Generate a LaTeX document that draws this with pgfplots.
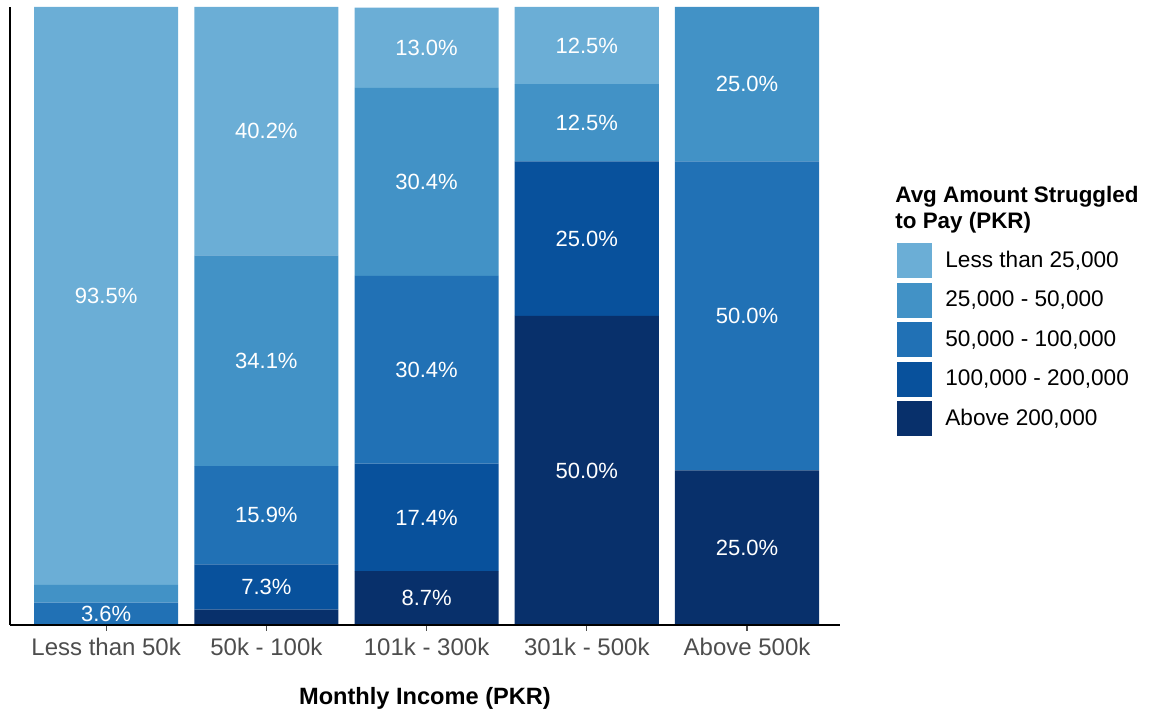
\documentclass[border=0pt]{standalone}
\usepackage{fontspec}
\setmainfont{Liberation Sans}
\usepackage{pgfplots}
\pgfplotsset{compat=1.18}
\definecolor{bluA}{HTML}{6BAED6}
\definecolor{bluB}{HTML}{4292C6}
\definecolor{bluC}{HTML}{2171B5}
\definecolor{bluD}{HTML}{08519C}
\definecolor{bluE}{HTML}{08306B}
\definecolor{tickgray}{HTML}{4D4D4D}

\begin{document}
\begin{tikzpicture}
\begin{axis}[
    ybar stacked,
    bar width=0.9,
    scale only axis,
    width=415pt,
    height=309pt,
    xmin=-0.6, xmax=4.58,
    ymin=0, ymax=100,
    clip=false,
    axis x line*=bottom,
    axis y line*=left,
    axis line style={line width=1pt,-},
    axis on top,
    ytick=\empty,
    xtick={0,1,2,3,4},
    xticklabels={Less than 50k,50k - 100k,101k - 300k,301k - 500k,Above 500k},
    xticklabel style={font=\fontsize{12}{14}\selectfont, text=tickgray},
    tick align=outside,
    major tick length=3pt,
    xtick style={draw=tickgray, line width=0.6pt},
    xlabel={Monthly Income (PKR)},
    xlabel style={font=\bfseries\fontsize{11.8}{14}\selectfont, at={(axis description cs:0.5,-0.118)}, anchor=center},
    /pgf/number format/assume math mode=true,
    visualization depends on=rawy \as \rawy,
    % stacked bars already put these labels at the middle of each segment
    nodes near coords={\ifdim \rawy pt>3pt \pgfmathprintnumber[fixed,fixed zerofill,precision=1]{\rawy}\%\fi},
    every node near coord/.append style={font=\fontsize{11}{13}\selectfont, text=white, anchor=center},
    reverse legend,
    legend cell align=left,
    legend image code/.code={\fill[#1] (0pt,-8.75pt) rectangle (17.5pt,8.75pt);},
    legend style={at={(1.0687,0.618)}, anchor=north west, draw=none, fill=none,
        inner sep=0pt, row sep=2.25pt, column sep=6.5pt,
        font=\fontsize{11.3}{13}\selectfont, nodes={inner sep=0pt}},
]
\addplot[fill=bluE, draw=none] coordinates {(0,0) (1,2.5) (2,8.7) (3,50) (4,25)};
\addlegendentry{Above 200,000}
\addplot[fill=bluD, draw=none] coordinates {(0,0) (1,7.3) (2,17.4) (3,25) (4,0)};
\addlegendentry{100,000 - 200,000}
\addplot[fill=bluC, draw=none] coordinates {(0,3.6) (1,15.9) (2,30.4) (3,0) (4,50)};
\addlegendentry{50,000 - 100,000}
\addplot[fill=bluB, draw=none] coordinates {(0,2.9) (1,34.1) (2,30.4) (3,12.5) (4,25)};
\addlegendentry{25,000 - 50,000}
\addplot[fill=bluA, draw=none] coordinates {(0,93.5) (1,40.2) (2,13.0) (3,12.5) (4,0)};
\addlegendentry{Less than 25,000}
\node[anchor=north west, inner sep=0pt, align=left, font=\bfseries\fontsize{11.2}{12.8}\selectfont]
    at (rel axis cs:1.0663,0.71) {Avg Amount Struggled\\to Pay (PKR)};
\coordinate (bl) at (rel axis cs:-0.01205,-0.1456);
\coordinate (tr) at (rel axis cs:1.3735,1.0113);
\end{axis}
\pgfresetboundingbox
\path[use as bounding box] (bl) rectangle (tr);
\end{tikzpicture}
\end{document}
